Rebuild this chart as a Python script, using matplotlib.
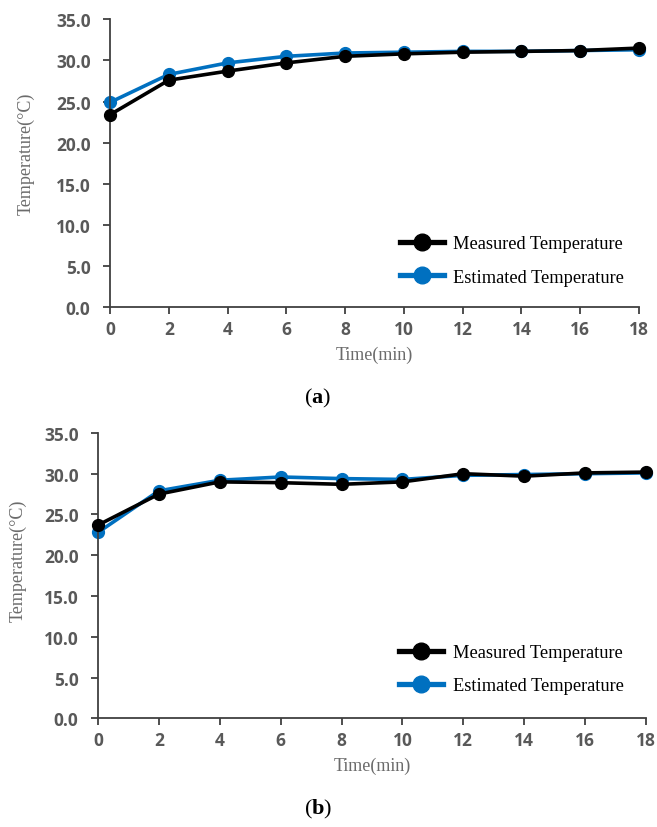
import matplotlib
matplotlib.use("Agg")
import matplotlib.pyplot as plt
from matplotlib.lines import Line2D

# time axis (min)
time_min = [0, 2, 4, 6, 8, 10, 12, 14, 16, 18]

# panel (a)
measured_a = [23.4, 27.6, 28.7, 29.7, 30.5, 30.8, 31.0, 31.1, 31.2, 31.5]
estimated_a = [24.9, 28.3, 29.7, 30.5, 30.9, 31.0, 31.1, 31.1, 31.2, 31.3]

# panel (b)
measured_b = [23.7, 27.5, 29.0, 28.9, 28.7, 29.0, 30.0, 29.7, 30.1, 30.2]
estimated_b = [22.8, 27.9, 29.2, 29.6, 29.4, 29.3, 29.8, 29.9, 30.0, 30.1]

y_ticks = [0, 5, 10, 15, 20, 25, 30, 35]
x_ticks = [0, 2, 4, 6, 8, 10, 12, 14, 16, 18]
legend_labels = ["Measured Temperature", "Estimated Temperature"]

BLACK = "#000000"
BLUE = "#0070C0"
GRAY = "#595959"
LABEL_GRAY = "#6b6b6b"
SPINE = "#404040"
SERIF = "Liberation Serif"

plt.rcParams['mathtext.fontset'] = 'custom'
plt.rcParams['mathtext.bf'] = 'Liberation Serif:bold'
plt.rcParams['mathtext.rm'] = 'Liberation Serif'

fig = plt.figure(figsize=(6.57, 8.28), dpi=100)
ax_a = fig.add_axes([0.1674, 0.6277, 0.8052, 0.3478])
ax_b = fig.add_axes([0.1492, 0.1313, 0.8341, 0.3446])


def draw_panel(ax, measured, estimated, ylab_xy, leg_anchor):
    ax.plot(time_min, estimated, "-o", color=BLUE, lw=2.6, ms=8.5, zorder=2,
            clip_on=False)
    ax.plot(time_min, measured, "-o", color=BLACK, lw=2.6, ms=8.5, zorder=3,
            clip_on=False)
    ax.set_xlim(0, 18)
    ax.set_ylim(0, 35)
    ax.set_xticks(x_ticks)
    ax.set_yticks(y_ticks)
    ax.set_yticklabels(["%.1f" % v for v in y_ticks])
    for side in ["top", "right"]:
        ax.spines[side].set_visible(False)
    for side in ["left", "bottom"]:
        ax.spines[side].set_color(SPINE)
        ax.spines[side].set_linewidth(1.3)
    ax.tick_params(axis="x", direction="out", length=5, width=1.3,
                   color=SPINE, pad=4.5)
    ax.tick_params(axis="y", direction="out", length=5, width=1.3,
                   color=SPINE, pad=9)
    for lbl in ax.get_xticklabels() + ax.get_yticklabels():
        lbl.set_fontfamily("Open Sans")
        lbl.set_fontweight("bold")
        lbl.set_fontsize(12.5)
        lbl.set_color(GRAY)
    ax.set_xlabel("Time(min)", family=SERIF, fontsize=13,
                  color=LABEL_GRAY, labelpad=5)
    ax.set_ylabel("Temperature(°C)", family=SERIF, fontsize=13,
                  color=LABEL_GRAY)
    ax.yaxis.set_label_coords(*ylab_xy)
    handles = [
        Line2D([], [], color=BLACK, lw=3.8, marker="o", ms=12),
        Line2D([], [], color=BLUE, lw=3.8, marker="o", ms=12),
    ]
    ax.legend(handles, legend_labels, loc="center left",
              bbox_to_anchor=leg_anchor, frameon=False,
              prop={"family": SERIF, "size": 13.2}, handlelength=2.4,
              handletextpad=0.5, labelspacing=0.9, borderaxespad=0.0,
              borderpad=0.0)


draw_panel(ax_a, measured_a, estimated_a, (-0.142, 0.537), (0.548, 0.163))
draw_panel(ax_b, measured_b, estimated_b, (-0.130, 0.556), (0.55, 0.172))

fig.text(318 / 657, 1 - 398 / 828, r"($\mathbf{a}$)", ha="center",
         va="center", family=SERIF, fontsize=16)
fig.text(318 / 657, 1 - 809 / 828, r"($\mathbf{b}$)", ha="center",
         va="center", family=SERIF, fontsize=16)

fig.savefig("out.png", dpi=100, facecolor="white")
